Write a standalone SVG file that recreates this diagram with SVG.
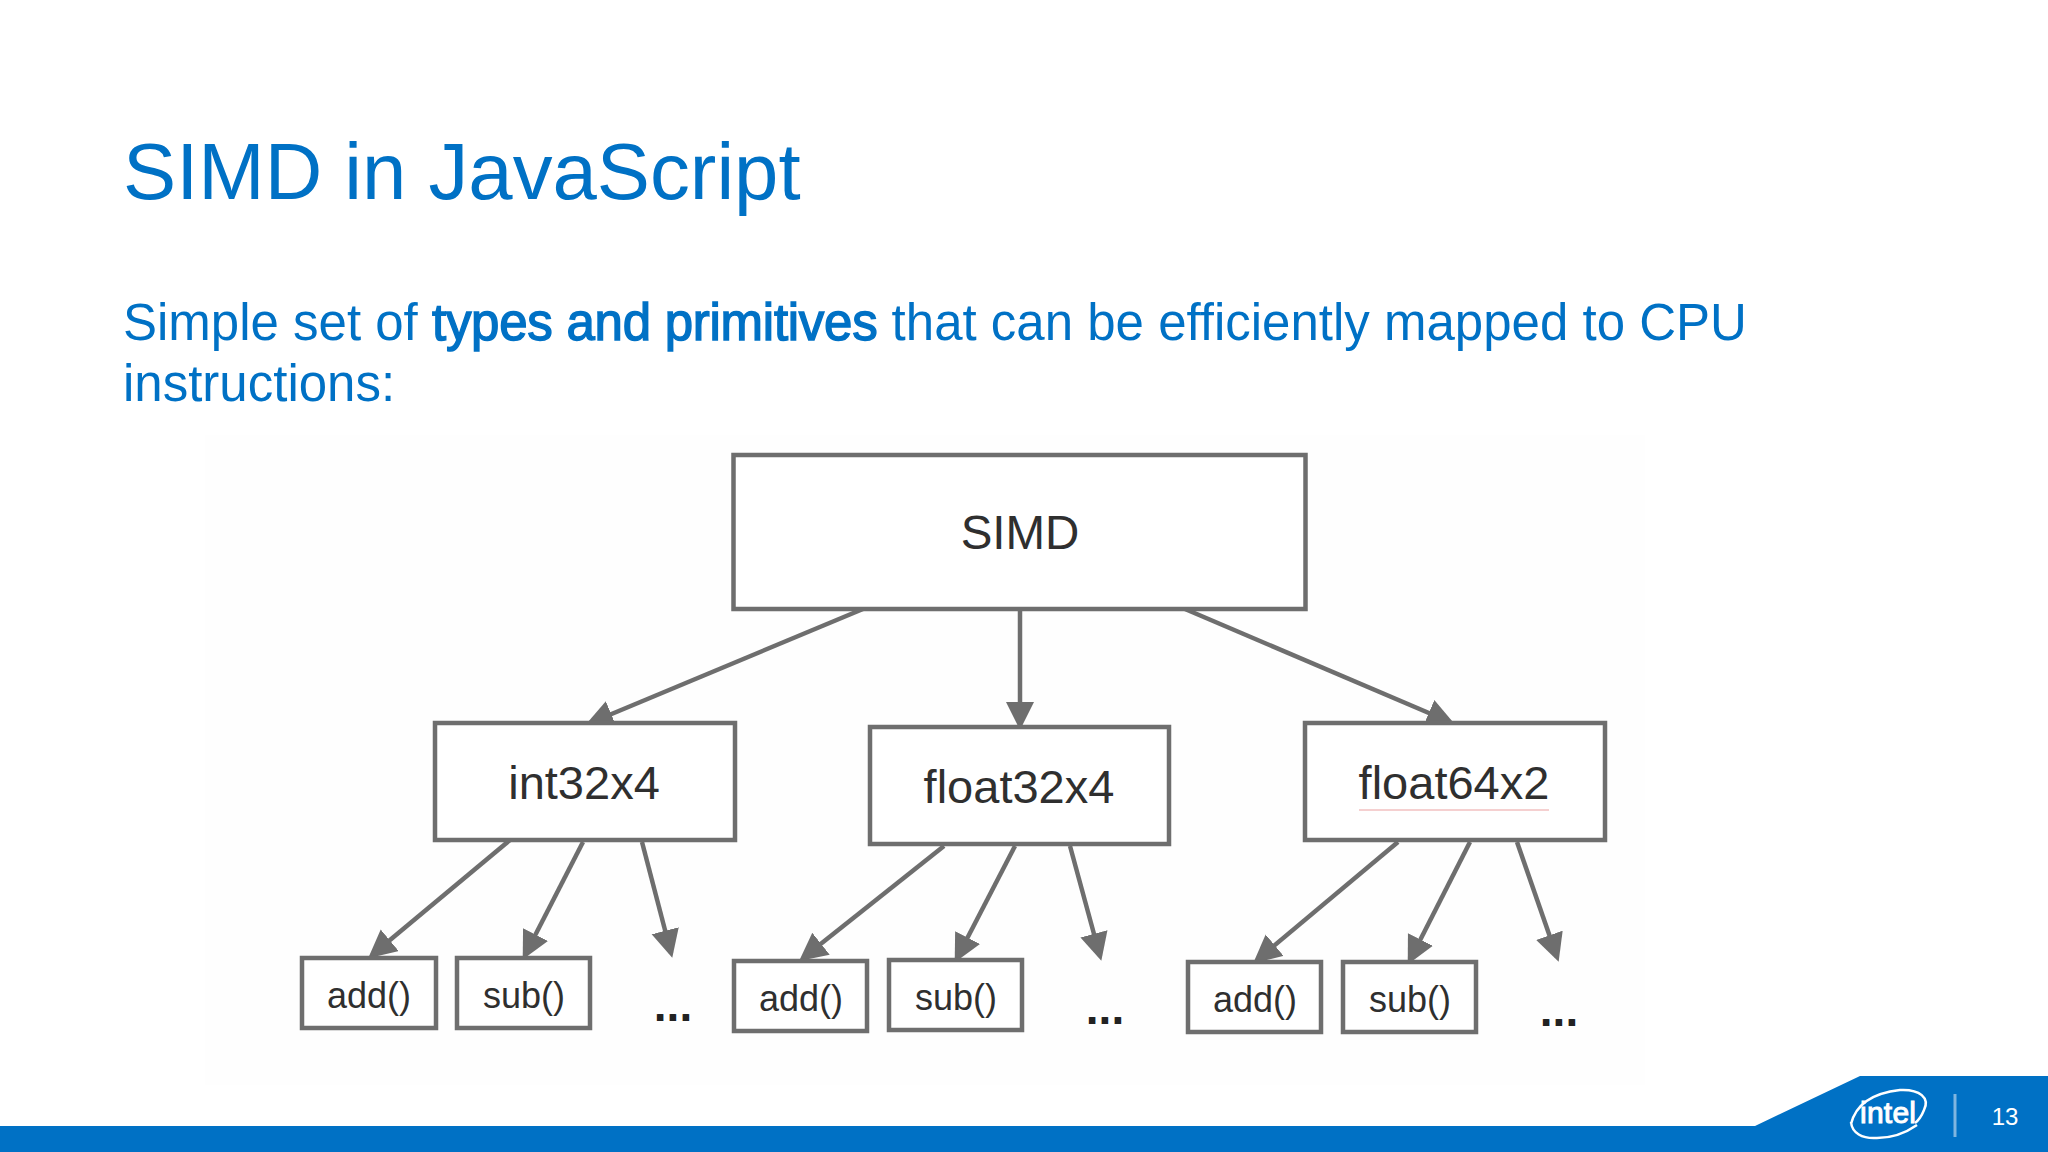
<svg xmlns="http://www.w3.org/2000/svg" width="2048" height="1152" viewBox="0 0 2048 1152">
<style>
text{font-family:"Liberation Sans",Arial,sans-serif}
.title{font-size:79.700px;fill:#0071c5}
.body{font-size:51px;fill:#0071c5}
.b{stroke:#0071c5;stroke-width:1.400;letter-spacing:-.26px}
.box{fill:#fff;stroke:#6e6e6e;stroke-width:4.500}
.lab{fill:#2f2f2f;text-anchor:middle}
.l{font-size:47.500px}.m{font-size:47px}.s{font-size:36px}
.dots{font-size:46px;font-weight:bold;fill:#222;text-anchor:middle}
.c line{stroke:#6e6e6e;stroke-width:4.500;marker-end:url(#a)}
</style>
<defs><marker id="a" markerUnits="userSpaceOnUse" markerWidth="32" markerHeight="32" refX="23" refY="14" orient="auto"><path d="M0 0L28 14L0 28Z" fill="#6e6e6e"/></marker></defs>
<rect width="2048" height="1152" fill="#fff"/>
<rect x="205" y="435" width="1440" height="650" fill="#fefefe"/>
<text class="title" x="123" y="199">SIMD in JavaScript</text>
<text class="body" x="123" y="340">Simple set of <tspan class="b">types and primitives</tspan> that can be efficiently mapped to CPU</text>
<text class="body" x="123" y="401">instructions:</text>
<g id="connectors" class="c">
<line x1="863" y1="609" x2="590" y2="723"/><line x1="1020" y1="609" x2="1020" y2="725"/><line x1="1185" y1="609" x2="1450" y2="722"/>
<line x1="510" y1="840" x2="372" y2="955"/><line x1="583" y1="842" x2="525" y2="955"/><line x1="642" y1="842" x2="671" y2="953"/>
<line x1="944" y1="846" x2="803" y2="958"/><line x1="1015" y1="846" x2="957" y2="958"/><line x1="1070" y1="846" x2="1100" y2="956"/>
<line x1="1398" y1="842" x2="1257" y2="960"/><line x1="1470" y1="842" x2="1410" y2="960"/><line x1="1517" y1="842" x2="1557" y2="957"/>
</g>
<g id="simd"><rect class="box" x="733.500" y="455" width="572" height="154"/><text class="lab l" x="1020" y="549">SIMD</text></g>
<g id="int32x4"><rect class="box" x="435" y="723" width="300" height="117"/><text class="lab m" x="584" y="799">int32x4</text></g>
<g id="float32x4"><rect class="box" x="870" y="727" width="299" height="117"/><text class="lab m" x="1019" y="803">float32x4</text></g>
<g id="float64x2"><rect class="box" x="1305" y="723" width="300" height="117"/><text class="lab m" x="1454" y="799">float64x2</text><path d="M1359 810H1549" stroke="#f5d0d0" stroke-width="2" fill="none"/></g>
<g id="add1"><rect class="box" x="302" y="958" width="134" height="70"/><text class="lab s" x="369" y="1007.500">add()</text></g>
<g id="sub1"><rect class="box" x="457" y="958" width="133" height="70"/><text class="lab s" x="524" y="1007.500">sub()</text></g>
<text class="dots" x="673" y="1021">...</text>
<g id="add2"><rect class="box" x="734" y="961" width="133" height="70"/><text class="lab s" x="801" y="1010.500">add()</text></g>
<g id="sub2"><rect class="box" x="889" y="960" width="133" height="70"/><text class="lab s" x="956" y="1009.500">sub()</text></g>
<text class="dots" x="1105" y="1024">...</text>
<g id="add3"><rect class="box" x="1188" y="962" width="133" height="70"/><text class="lab s" x="1255" y="1011.500">add()</text></g>
<g id="sub3"><rect class="box" x="1343" y="962" width="133" height="70"/><text class="lab s" x="1410" y="1011.500">sub()</text></g>
<text class="dots" x="1559" y="1026">...</text>
<g id="footer">
<path d="M0 1126H1755L1860 1076H2048V1152H0Z" fill="#0071c5"/>
<path d="M1851 1124C1856 1104 1873 1093 1900 1090C1920 1089 1930 1098 1924 1110C1922 1115 1919 1120 1915 1123M1851 1122C1852 1133 1862 1139 1877 1138C1892 1138 1907 1132 1917 1125" fill="none" stroke="#fff" stroke-width="2.500"/>
<text x="1860" y="1123" font-size="30" fill="#fff" stroke="#fff" stroke-width="1" textLength="56">intel</text>
<rect x="1953.500" y="1094" width="3" height="43" fill="#7fb5e0"/>
<text x="2005" y="1125" font-size="24" fill="#fff" text-anchor="middle">13</text>
</g>
</svg>
